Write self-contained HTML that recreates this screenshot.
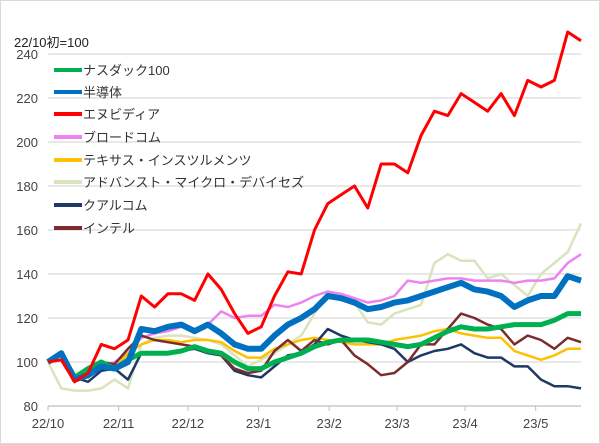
<!DOCTYPE html>
<html><head><meta charset="utf-8"><style>
body{margin:0;background:#fff;}
svg{display:block;font-family:"Liberation Sans","Noto Sans CJK JP",sans-serif;}
</style></head><body>
<svg id="chart" width="600" height="444" viewBox="0 0 600 444">
<rect x="0.5" y="0.5" width="599" height="443" fill="#fff" stroke="#d9d9d9"/>
<text x="14" y="47" font-size="13" fill="#222">22/10初=100</text>
<g id="grid"></g><g id="axes"></g><g id="series"></g><g id="legend"></g>
</svg>
<script>
const yTicks=[80,100,120,140,160,180,200,220,240];
const monthLabels=["22/10","22/11","22/12","23/1","23/2","23/3","23/4","23/5"];
const monthPos=[0,5.3,10.5,15.8,21.1,26.2,31.3,36.6];
const pointIdx=[...Array(41).keys()];
const nasdaq=[100,104,93,97,100,97,101,104,104,104,105,107,105,104,100,97,97,100,102,104,107,109,110,110,110,109,108,107,108,111,114,116,115,115,116,117,117,117,119,122,122];
const semi=[100,104,92,94,98,97,100,115,114,116,117,114,117,113,108,106,106,112,117,120,124,130,129,127,124,125,127,128,130,132,134,136,133,132,130,125,128,130,130,139,137];
const nvidia=[100,101,91,95,108,106,110,130,125,131,131,128,140,133,122,113,116,130,141,140,160,172,176,180,170,190,190,186,203,214,212,222,218,214,222,212,228,225,228,250,246];
const broadcom=[100,104,93,96,98,100,104,111,113,114,116,115,117,123,120,121,121,126,125,127,130,132,131,129,127,128,130,137,136,137,138,138,137,137,137,136,137,137,138,145,149];
const ti=[100,104,93,96,99,97,104,108,110,110,109,110,110,109,105,102,102,106,108,110,111,110,109,108,108,108,110,111,112,114,115,113,112,111,111,105,103,101,103,106,106];
const amd=[100,88,87,87,88,92,88,108,111,112,112,111,110,108,103,98,101,104,108,112,122,131,128,127,118,117,122,124,126,145,149,146,146,138,140,135,130,140,145,150,163];
const qualcomm=[100,104,93,91,96,97,92,104,104,104,105,106,104,103,96,94,93,98,103,104,108,115,112,110,109,108,106,100,103,105,106,108,104,102,102,98,98,92,89,89,88];
const intel=[100,104,93,93,100,99,106,112,110,109,108,107,105,103,97,95,96,105,110,105,110,108,110,103,99,94,95,100,108,108,115,122,120,117,115,108,112,110,106,111,109];
const seriesNames=["ナスダック100","半導体","エヌビディア","ブロードコム","テキサス・インスツルメンツ","アドバンスト・マイクロ・デバイセズ","クアルコム","インテル"];
const seriesData=[nasdaq,semi,nvidia,broadcom,ti,amd,qualcomm,intel];
const colors=["#00b050","#0070c0","#ff0000","#ee82ee","#ffc000","#d8e4bc","#1f3864","#7b2c2c"];
const widths=[5,6,3,2.5,2.5,2.5,2.5,2.5];
const slugs=["nasdaq100","semiconductor","nvidia","broadcom","texas-instruments","amd","qualcomm","intel"];
const NS="http://www.w3.org/2000/svg";
const X0=48,X1=581;
const x=i=>X0+i*(X1-X0)/40;
const y=v=>362-(v-100)*2.2;
function mk(tag,attrs,parent){const e=document.createElementNS(NS,tag);for(const k in attrs)e.setAttribute(k,attrs[k]);parent.appendChild(e);return e;}
const grid=document.getElementById('grid'),axes=document.getElementById('axes'),ser=document.getElementById('series'),leg=document.getElementById('legend');
yTicks.forEach(v=>{
  if(v>80){const l=mk('line',{x1:X0,x2:X1,y1:y(v),y2:y(v),stroke:'#d9d9d9','stroke-width':1.3},grid);
  
  }
  const t=mk('text',{x:38,y:y(v)+5,'font-size':13,'text-anchor':'end',fill:'#444'},axes);t.textContent=v;
  
  
});
const ax=mk('line',{x1:X0,x2:X1,y1:y(80),y2:y(80),stroke:'#bfbfbf','stroke-width':1.3},axes);


monthLabels.forEach((m,i)=>{
  const px=x(monthPos[i]);
  const tk=mk('line',{x1:px,x2:px,y1:y(80),y2:y(80)+5,stroke:'#bfbfbf'},axes);
  
  
  const t=mk('text',{x:px,y:428,'font-size':13,'text-anchor':'middle',fill:'#444'},axes);t.textContent=m;
  
  
});
const order=[5,3,4,6,7,0,1,2];
order.forEach(s=>{
  const d=seriesData[s].map((v,i)=>(i?'L':'M')+x(pointIdx[i]).toFixed(1)+' '+y(v).toFixed(1)).join('');
  const p=mk('path',{d:d,fill:'none',stroke:colors[s],'stroke-width':widths[s],'stroke-linejoin':'round'},ser);
  
  
});
const legY=[70,92,114,137,160,182,205,228];
seriesNames.forEach((n,i)=>{
  const g=mk('g',{},leg);
  
  
  mk('line',{x1:54,x2:82,y1:legY[i],y2:legY[i],stroke:colors[i],'stroke-width':4},g);
  const t=mk('text',{x:83,y:legY[i]+5,'font-size':13,fill:'#333'},g);t.textContent=n;
});
</script>
</body></html>
